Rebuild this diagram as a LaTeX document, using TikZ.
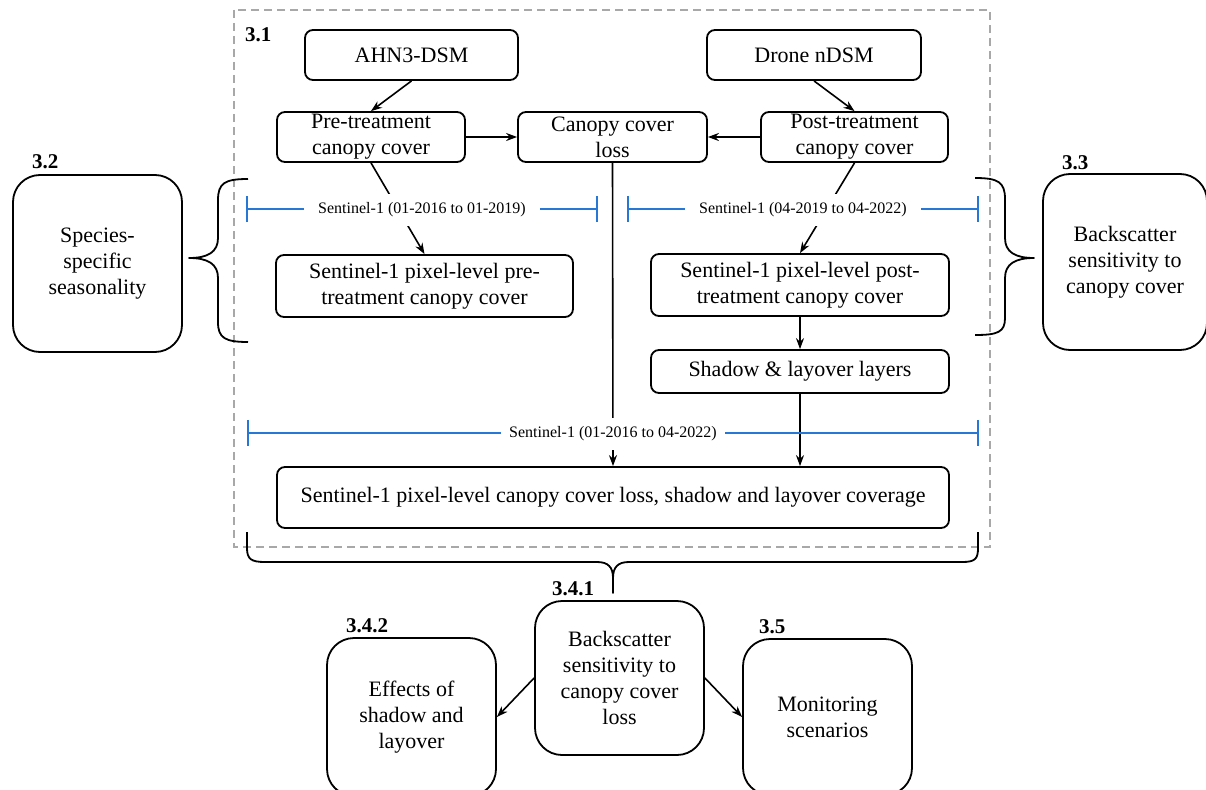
\documentclass[tikz,border=0pt]{standalone}
\usepackage{fontspec}
\setmainfont{Liberation Serif}
\usetikzlibrary{arrows.meta}
\definecolor{barblue}{RGB}{38,120,212}
\definecolor{dashgray}{RGB}{168,168,168}
\begin{document}
\begin{tikzpicture}[x=1pt,y=-1pt,
  box/.style={draw, line width=1.8pt, rounded corners=8pt, align=center,
    font=\fontsize{22}{26}\selectfont, inner sep=0pt, anchor=center},
  bigbox/.style={box, rounded corners=27pt},
  seclab/.style={font=\fontsize{21}{24}\selectfont\bfseries, inner sep=0pt, anchor=base west},
  barlab/.style={fill=white, font=\fontsize{16}{18}\selectfont, inner xsep=14pt, inner ysep=9pt},
  arr/.style={-{Stealth[length=11pt,width=8pt]}, line width=1.6pt},
  bar/.style={barblue, line width=2.4pt, {Bar[width=26pt]}-{Bar[width=26pt]}},
  bracepath/.style={line width=1.8pt, line join=round}
]
\clip (0,0) rectangle (1206,789);
\fill[white] (0,0) rectangle (1206,789);

% dashed frame
\draw[dashgray, line width=2.2pt, dash pattern=on 8pt off 5pt] (234,10) rectangle (990,547);

% nodes
\node[box, minimum width=213pt, minimum height=50pt] (ahn) at (411.5,55) {AHN3-DSM};
\node[box, minimum width=214pt, minimum height=50pt] (drone) at (814,55) {Drone nDSM};
\node[box, minimum width=188pt, minimum height=50pt] (pre) at (371,137) {Pre-treatment\\canopy cover};
\node[box, minimum width=189pt, minimum height=50pt] (loss) at (612.5,137) {Canopy cover\\loss};
\node[box, minimum width=187pt, minimum height=50pt] (post) at (854.5,137) {Post-treatment\\canopy cover};
\node[box, minimum width=297pt, minimum height=62pt] (pixpre) at (424.5,286) {Sentinel-1 pixel-level pre-\\treatment canopy cover};
\node[box, minimum width=298pt, minimum height=62pt] (pixpost) at (800,285) {Sentinel-1 pixel-level post-\\treatment canopy cover};
\node[box, minimum width=298pt, minimum height=43pt] (shadow) at (800,371.5) {Shadow \& layover layers};
\node[box, minimum width=672pt, minimum height=61pt] (bottom) at (613,497.5) {Sentinel-1 pixel-level canopy cover loss, shadow and layover coverage};

\node[bigbox, minimum width=169pt, minimum height=177pt] (b32) at (97.5,263.5) {Species-\\specific\\seasonality};
\node[bigbox, minimum width=164pt, minimum height=176pt] (b33) at (1125,262) {Backscatter\\sensitivity to\\canopy cover};
\node[bigbox, minimum width=169pt, minimum height=154pt] (b341) at (619.5,678) {Backscatter\\sensitivity to\\canopy cover\\loss};
\node[bigbox, minimum width=169pt, minimum height=158pt] (b342) at (411.5,717) {Effects of\\shadow and\\layover};
\node[bigbox, minimum width=169pt, minimum height=156pt] (b35) at (827.5,717) {Monitoring\\scenarios};

% section labels
\node[seclab] (s31) at (245,42) {3.1};
\node[seclab] (s32) at (32,168) {3.2};
\node[seclab] (s33) at (1062,169) {3.3};
\node[seclab] (s341) at (552,595) {3.4.1};
\node[seclab] (s342) at (346,632) {3.4.2};
\node[seclab] (s35) at (759,633) {3.5};

% connectors
\draw[arr] (ahn.south) -- (pre.north);
\draw[arr] (drone.south) -- (post.north);
\draw[arr] (pre.east) -- (loss.west);
\draw[arr] (post.west) -- (loss.east);
\draw[arr] (pre.south) -- (pixpre.north);
\draw[arr] (post.south) -- (pixpost.north);
\draw[arr] (pixpost.south) -- (shadow.north);
\draw[arr] (loss.south) -- (bottom.north);
\draw[arr] (shadow.south) -- (shadow.south |- bottom.north);
\draw[arr] (b341.west) -- (b342.east);
\draw[arr] (b341.east) -- (b35.west);

% blue period bars
\coordinate (l1a) at (246,209); \coordinate (l1b) at (598,209);
\coordinate (l2a) at (627,209); \coordinate (l2b) at (979,209);
\coordinate (l3a) at (247,433); \coordinate (l3b) at (979,433);
\draw[bar] (l1a) -- (l1b);
\draw[bar] (l2a) -- (l2b);
\draw[bar] (l3a) -- (l3b);
\node[barlab] (t1) at (422,210) {Sentinel-1 (01-2016 to 01-2019)};
\node[barlab] (t2) at (803,210) {Sentinel-1 (04-2019 to 04-2022)};
\node[barlab, inner xsep=8pt] (t3) at (613,434) {Sentinel-1 (01-2016 to 04-2022)};

% braces
\draw[bracepath] (248,179) .. controls (225,179) and (218,183) .. (218,200) -- (218,238)
  .. controls (218,252) and (208,258) .. (189,258)
  .. controls (208,258) and (218,264) .. (218,278) -- (218,322)
  .. controls (218,338) and (225,342) .. (248,342);
\draw[bracepath] (975,178) .. controls (998,178) and (1005,182) .. (1005,199) -- (1005,238)
  .. controls (1005,252) and (1015,258) .. (1034,258)
  .. controls (1015,258) and (1005,264) .. (1005,278) -- (1005,318)
  .. controls (1005,332) and (998,335) .. (975,335);
\draw[bracepath] (247,532) -- (247,548) .. controls (247,559) and (251,562) .. (265,562) -- (597,562)
  .. controls (608,562) and (613,567) .. (613,578) -- (613,593) -- (613,578)
  .. controls (613,567) and (618,562) .. (629,562) -- (962,562)
  .. controls (975,562) and (978,559) .. (978,548) -- (978,532);
\end{tikzpicture}
\end{document}
